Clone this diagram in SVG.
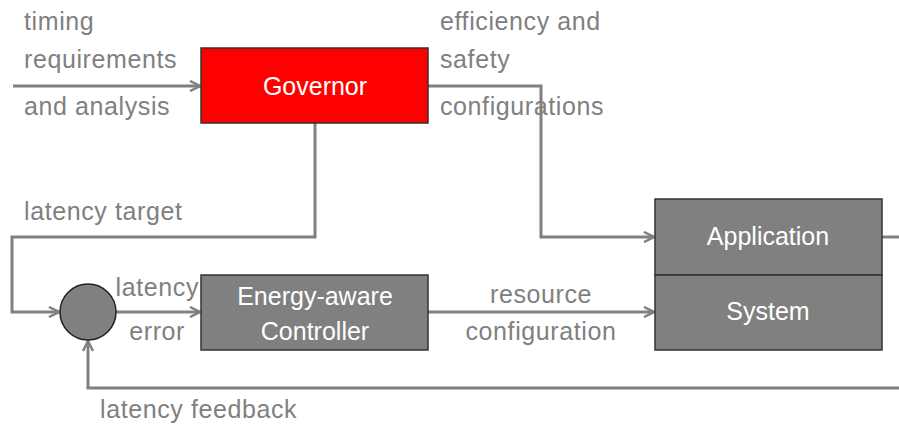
<svg xmlns="http://www.w3.org/2000/svg" width="899" height="425" viewBox="0 0 899 425">
<style>
.lbl{font-family:"Liberation Sans",Arial,sans-serif;font-size:25px;fill:#808080;letter-spacing:0.6px}
.in{font-family:"Liberation Sans",Arial,sans-serif;font-size:25px;fill:#ffffff;text-anchor:middle}
.box{stroke:#333333;stroke-width:1.5}
.wire{fill:none;stroke:#808080;stroke-width:3}
</style>
<defs>
<marker id="ar" viewBox="0 0 12 12" refX="11" refY="6" markerWidth="12" markerHeight="12" markerUnits="userSpaceOnUse" orient="auto">
<path d="M1,1 L11,6 L1,11" fill="none" stroke="#808080" stroke-width="2.5" stroke-linejoin="miter"/>
</marker>
</defs>
<rect width="899" height="425" fill="#ffffff"/>
<g id="connectors">
<path class="wire" d="M13,86 H200" marker-end="url(#ar)"/>
<path class="wire" d="M428,86 H541 V237 H654" marker-end="url(#ar)"/>
<path class="wire" d="M315,123 V237 H12 V312 H59" marker-end="url(#ar)"/>
<path class="wire" d="M116,312 H200" marker-end="url(#ar)"/>
<path class="wire" d="M428,312 H654" marker-end="url(#ar)"/>
<path class="wire" d="M882,237 H899"/>
<path class="wire" d="M899,388 H88 V341" marker-end="url(#ar)"/>
</g>
<g id="governor">
<rect class="box" x="201" y="48" width="227" height="75" fill="#ff0000"/>
<text class="in" x="315" y="95">Governor</text>
</g>
<g id="controller">
<rect class="box" x="201" y="275" width="227" height="75" fill="#808080"/>
<text class="in" x="315" y="305">Energy-aware</text>
<text class="in" x="315" y="340">Controller</text>
</g>
<g id="application">
<rect class="box" x="655" y="199" width="227" height="76" fill="#808080"/>
<text class="in" x="768" y="245">Application</text>
</g>
<g id="system">
<rect class="box" x="655" y="275" width="227" height="75" fill="#808080"/>
<text class="in" x="768" y="320">System</text>
</g>
<g id="sum">
<circle cx="88" cy="312" r="28" fill="#808080" stroke="#222222" stroke-width="1.5"/>
</g>
<g id="labels">
<text class="lbl" x="24" y="30">timing</text>
<text class="lbl" x="24" y="68">requirements</text>
<text class="lbl" x="24" y="115">and analysis</text>
<text class="lbl" x="440" y="30">efficiency and</text>
<text class="lbl" x="440" y="68">safety</text>
<text class="lbl" x="440" y="115">configurations</text>
<text class="lbl" x="24" y="220">latency target</text>
<text class="lbl" x="199" y="296" text-anchor="end">latency</text>
<text class="lbl" x="185" y="340" text-anchor="end">error</text>
<text class="lbl" x="541" y="303" text-anchor="middle">resource</text>
<text class="lbl" x="541" y="340" text-anchor="middle">configuration</text>
<text class="lbl" x="100" y="418">latency feedback</text>
</g>
</svg>
